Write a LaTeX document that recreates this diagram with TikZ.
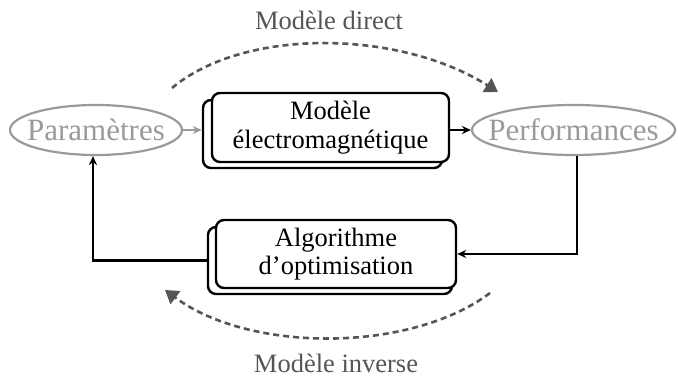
\documentclass[tikz,border=0pt]{standalone}
\usepackage{fontspec}
\setmainfont{Liberation Serif}
\usetikzlibrary{arrows.meta,calc,shapes.geometric}
\definecolor{lightgr}{HTML}{9A9A9A}
\definecolor{darkgr}{HTML}{555555}
\begin{document}
\begin{tikzpicture}[x=1pt,y=-1pt,
  ell/.style={draw=lightgr,line width=2.2pt,ellipse,inner sep=0pt},
  elltext/.style={text=lightgr,inner sep=0pt,font=\fontsize{31}{31}\selectfont},
  boxnode/.style={draw=black,fill=white,line width=2.4pt,rounded corners=8pt,inner sep=0pt,align=center,font=\fontsize{26.5}{28.5}\selectfont},
  conn/.style={line width=2.5pt,-{Stealth[length=9pt,width=8pt]}},
  arcline/.style={draw=darkgr,line width=2.6pt,dash pattern=on 6pt off 4pt,-{Triangle[length=13pt,width=16pt]}},
  arclabel/.style={text=darkgr,inner sep=0pt,anchor=base,font=\fontsize{26.5}{28}\selectfont}
]
\useasboundingbox (0,0) rectangle (678,379);
\node[ell,minimum width=172pt,minimum height=50pt] (par) at (96,130) {};
\node[elltext] (part) at (par.center) {Paramètres};
\node[ell,minimum width=203pt,minimum height=50pt] (perf) at (573.5,130) {};
\node[elltext] (perft) at (perf.center) {Performances};
% Modele box
\node[boxnode,minimum width=239pt,minimum height=68pt] (modb) at (322.5,134) {};
\node[boxnode,minimum width=237pt,minimum height=69pt] (mod) at (330.5,127.5) {Modèle\\électromagnétique};
% Algorithme box
\node[boxnode,minimum width=244pt,minimum height=67pt] (algb) at (330,260.5) {};
\node[boxnode,minimum width=240pt,minimum height=68pt] (alg) at (336,254) {Algorithme\\d’optimisation};
% connectors
\draw[conn,draw=lightgr,fill=lightgr] (par.east) -- (par.east -| modb.west);
\draw[conn] (perf.west -| mod.east) -- (perf.west);
\draw[conn] ($(perf.south)+(3.5,0)$) |- (alg.east);
\draw[conn] (algb.west) -| ($(par.south)+(-3,0)$);
% arcs
\coordinate (d1) at (172,88);
\coordinate (d2) at (498,92);
\coordinate (i1) at (490,293);
\coordinate (i2) at (165,290);
\draw[arcline] (d1) .. controls (245,27) and (400,30) .. (d2);
\draw[arcline] (i1) .. controls (410,353) and (250,353) .. (i2);
\node[arclabel] (ld) at (329,30) {Modèle direct};
\node[arclabel] (li) at (336,373) {Modèle inverse};
\end{tikzpicture}
\end{document}
